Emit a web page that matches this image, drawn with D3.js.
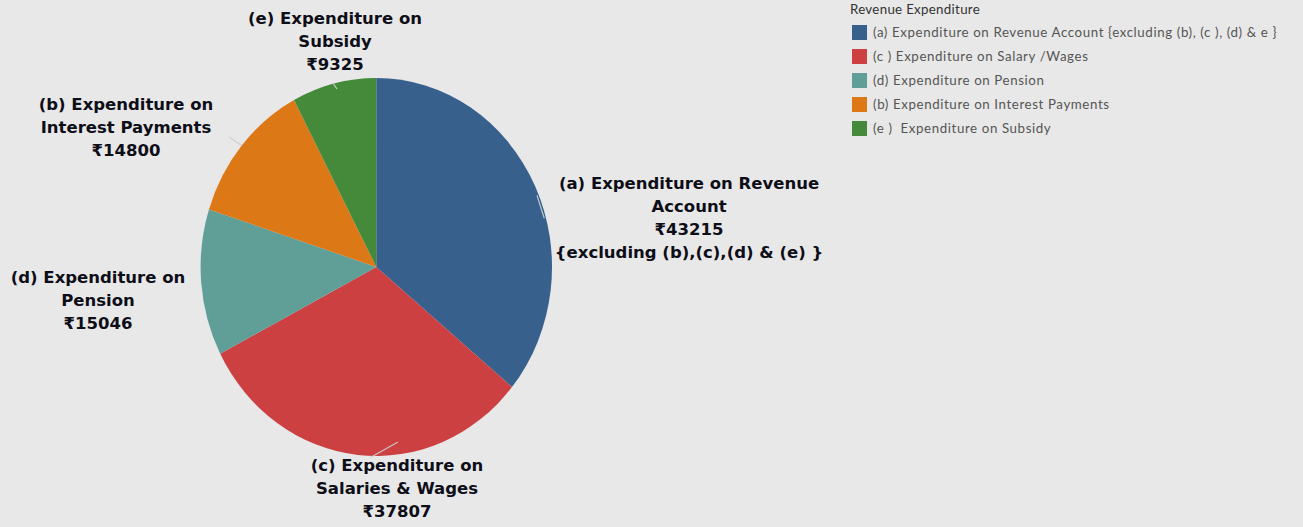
<!DOCTYPE html>
<html><head><meta charset="utf-8">
<script src="https://cdn.jsdelivr.net/npm/d3@7"></script>
<style>
html,body{margin:0;padding:0;background:#e8e8e8;}
svg{display:block;}
</style></head>
<body>
<svg id="chart" width="1303" height="527"></svg>
<script>
const categories = ["(a) Expenditure on Revenue Account {excluding (b), (c ), (d) & e }",
  "(c ) Expenditure on Salary /Wages",
  "(d) Expenditure on Pension",
  "(b) Expenditure on Interest Payments",
  "(e )  Expenditure on Subsidy"];
const values = [43215, 37807, 15046, 14800, 9325];
const colors = ["#37608c", "#cc4042", "#609f98", "#dd7817", "#448a3a"];
const sliceLabels = [
  ["(a) Expenditure on Revenue", "Account", "₹43215", "{excluding (b),(c),(d) & (e) }"],
  ["(c) Expenditure on", "Salaries & Wages", "₹37807"],
  ["(d) Expenditure on", "Pension", "₹15046"],
  ["(b) Expenditure on", "Interest Payments", "₹14800"],
  ["(e) Expenditure on", "Subsidy", "₹9325"]
];
const legendTitle = "Revenue Expenditure";

const svg = d3.select("#chart");
const cx = 376.3, cy = 267, rx = 175.7, ry = 189;
const sx = rx / ry;

const pie = d3.pie().sort(null).value(d => d)(values);
const arc = d3.arc().innerRadius(0).outerRadius(ry);

const g = svg.append("g").attr("transform", `translate(${cx},${cy}) scale(${sx},1)`);
g.selectAll("path").data(pie).join("path")
  .attr("d", arc).attr("fill", (d, i) => colors[i]);

// faint leader ticks near slice edges (angle, radius fraction pairs)
function pt(angle, r) {
  return [cx + rx * r * Math.sin(angle), cy - ry * r * Math.cos(angle)];
}
const ticks = [
  [[1.178, 0.99], [1.308, 0.99]],
  [[3.177, 1.01], [3.009, 0.934]],
  [[5.400, 1.084], [5.411, 1.0]],
  [[6.035, 1.004], [6.050, 0.968]]
];
ticks.forEach(t => {
  const p0 = pt(t[0][0], t[0][1]), p1 = pt(t[1][0], t[1][1]);
  svg.append("line").attr("x1", p0[0]).attr("y1", p0[1]).attr("x2", p1[0]).attr("y2", p1[1])
    .attr("stroke", "#cfcfcf").attr("stroke-width", 1.3).attr("opacity", 0.9);
});

// labels
const labelPos = [[689, 184], [397, 466], [98, 278], [126, 105], [335, 19]];
const lineH = 23;
sliceLabels.forEach((lines, i) => {
  const t = svg.append("text")
    .attr("x", labelPos[i][0]).attr("y", labelPos[i][1])
    .attr("text-anchor", "middle")
    .attr("font-family", "DejaVu Sans, sans-serif")
    .attr("font-weight", "bold")
    .attr("font-size", 16.5)
    .attr("fill", "#0e0e18")
    .style("dominant-baseline", "middle");
  lines.forEach((l, j) => {
    t.append("tspan").attr("x", labelPos[i][0]).attr("dy", j === 0 ? 0 : lineH).text(l);
  });
});

// legend
const lg = svg.append("g").attr("transform", "translate(850,0)");
lg.append("text").attr("x", 0).attr("y", 14).text(legendTitle)
  .attr("font-family", "Lato, sans-serif").attr("font-size", 13.3).attr("letter-spacing", 0.3).attr("fill", "#333");
const rows = lg.selectAll("g.row").data(categories).join("g")
  .attr("transform", (d, i) => `translate(2,${25 + i * 24})`);
rows.append("rect").attr("width", 15).attr("height", 15).attr("fill", (d, i) => colors[i]);
rows.append("text").attr("x", 21).attr("y", 12).text(d => d)
  .attr("font-family", "Lato, sans-serif").attr("font-size", 13.3).attr("letter-spacing", 0.6)
  .attr("fill", "#555").style("white-space", "pre");
</script>
</body></html>
